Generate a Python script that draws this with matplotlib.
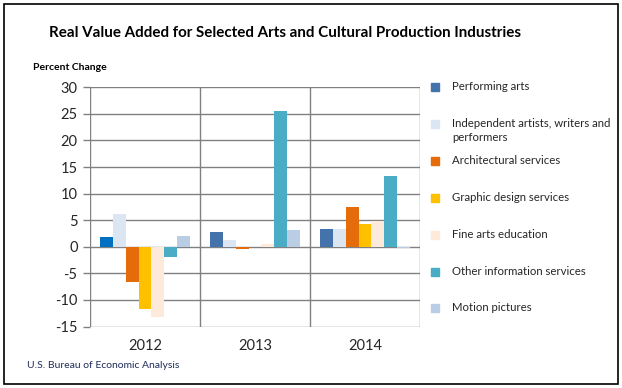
import matplotlib
matplotlib.use("Agg")
import matplotlib.pyplot as plt
from matplotlib.patches import Rectangle
import numpy as np

plt.rcParams['font.family'] = ['Lato', 'DejaVu Sans']

years = ["2012", "2013", "2014"]
series = ["Performing arts",
          "Independent artists, writers and\nperformers",
          "Architectural services",
          "Graphic design services",
          "Fine arts education",
          "Other information services",
          "Motion pictures"]
performing_arts = [1.8, 2.7, 3.3]
independent_artists = [6.1, 1.2, 3.4]
architectural = [-6.7, -0.4, 7.4]
graphic_design = [-11.8, 0.05, 4.2]
fine_arts_education = [-13.3, 0.6, 4.8]
other_information = [-2.0, 25.5, 13.4]
motion_pictures = [2.0, 3.1, -0.3]
values = [performing_arts, independent_artists, architectural, graphic_design,
          fine_arts_education, other_information, motion_pictures]
colors = ["#4472AA", "#DCE6F2", "#E46C0A", "#FFC000", "#FDEADA", "#4BACC6", "#B9CDE5"]
# the 2012 performing arts bar is drawn in a brighter blue in the reference
point_colors = {(0, 0): "#0070C0"}
yticks = [-15, -10, -5, 0, 5, 10, 15, 20, 25, 30]

W, H = 622, 388
fig = plt.figure(figsize=(W / 100, H / 100), dpi=100)
ax = fig.add_axes([90 / W, 1 - 326.5 / H, 330 / W, (326.5 - 87.3) / H])

x = np.arange(len(years))
group = 0.825
bw = group / len(series)
for i, (vals, c) in enumerate(zip(values, colors)):
    offs = x - group / 2 + bw * (i + 0.5)
    cols = [point_colors.get((i, j), c) for j in range(len(years))]
    ax.bar(offs, vals, width=bw, color=cols, zorder=3, linewidth=0)

grid_c = "#808080"
ax.set_xlim(-0.5, len(years) - 0.5)
ax.set_ylim(-15, 30)
ax.set_yticks(yticks)
ax.set_yticklabels([str(t) for t in yticks], fontsize=10.5, color="#262626")
ax.set_xticks(x)
ax.set_xticklabels(years, fontsize=10.5, color="#262626")
for t in yticks:
    ax.axhline(t, color=grid_c, lw=1.0, zorder=1)
for b in np.arange(-0.5, len(years), 1.0):
    ax.axvline(b, color=grid_c, lw=1.0, zorder=1)
for s in ax.spines.values():
    s.set_visible(False)
ax.tick_params(axis='y', length=5, width=1.0, color=grid_c, pad=4)
ax.tick_params(axis='x', length=0, pad=9)

# Title and annotations
fig.text(285 / W, 1 - 33 / H, "Real Value Added for Selected Arts and Cultural Production Industries",
         ha="center", va="center", fontsize=10.9, fontweight="bold", color="#000000")
fig.text(33 / W, 1 - 68 / H, "Percent Change", ha="left", va="center",
         fontsize=7.5, fontweight="bold", color="#000000")
fig.text(27 / W, 1 - 366 / H, "U.S. Bureau of Economic Analysis", ha="left", va="center",
         fontsize=7.5, color="#1F2D5A")

# Legend (manual layout, Excel style)
ys = [87, 124, 161, 198, 235, 272, 308]
for lab, c, yy in zip(series, colors, ys):
    fig.patches.append(Rectangle((431 / W, 1 - (yy + 4) / H), 8 / W, 8 / H,
                                 transform=fig.transFigure, color=c, zorder=5))
    fig.text(452 / W, 1 - (yy - 6) / H, lab, ha="left", va="top",
             fontsize=8.2, color="#262626", linespacing=1.35)

# outer border
fig.patches.append(Rectangle((3.5 / W, 1 - 383.5 / H), 614 / W, 380 / H,
                             transform=fig.transFigure, fill=False,
                             edgecolor="#000000", lw=1.2, zorder=10))

fig.savefig("out.png", dpi=100)
